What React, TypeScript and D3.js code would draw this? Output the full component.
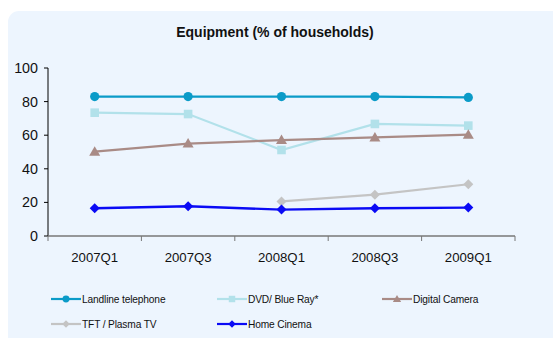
import React from "react";
import * as d3 from "d3";

const quarters = ["2007Q1", "2007Q3", "2008Q1", "2008Q3", "2009Q1"];
const yTicks = [0, 20, 40, 60, 80, 100];

const landline = [83, 83, 83, 83, 82.5];
const dvd = [73.4, 72.6, 51.2, 66.7, 65.7];
const camera = [50.2, 55, 57.1, 58.7, 60.3];
const tft: (number | null)[] = [null, null, 20.6, 24.6, 30.8];
const cinema = [16.5, 17.7, 15.7, 16.5, 16.9];

type Marker = "circle" | "square" | "triangle" | "diamond";
interface Series {
  name: string;
  values: (number | null)[];
  color: string;
  marker: Marker;
  width: number;
}

const series: Series[] = [
  { name: "Landline telephone", values: landline, color: "#0B9BC8", marker: "circle", width: 2.2 },
  { name: "DVD/ Blue Ray*", values: dvd, color: "#B2E1EA", marker: "square", width: 2.2 },
  { name: "Digital Camera", values: camera, color: "#A98B86", marker: "triangle", width: 2.2 },
  { name: "TFT / Plasma TV", values: tft, color: "#C4C4C4", marker: "diamond", width: 2.2 },
  { name: "Home Cinema", values: cinema, color: "#0A0AF5", marker: "diamond", width: 2.4 },
];

const font = "Liberation Sans, Arial, sans-serif";

function MarkerShape({
  type,
  x,
  y,
  color,
  k = 1,
}: {
  type: Marker;
  x: number;
  y: number;
  color: string;
  k?: number;
}) {
  switch (type) {
    case "circle":
      return <circle cx={x} cy={y} r={4.6 * k} fill={color} />;
    case "square":
      return <rect x={x - 4.3 * k} y={y - 4.3 * k} width={8.6 * k} height={8.6 * k} fill={color} />;
    case "triangle":
      return (
        <path
          d={`M${x},${y - 5.5 * k}L${x + 5.5 * k},${y + 4 * k}L${x - 5.5 * k},${y + 4 * k}Z`}
          fill={color}
        />
      );
    case "diamond":
      return (
        <path
          d={`M${x},${y - 5 * k}L${x + 5 * k},${y}L${x},${y + 5 * k}L${x - 5 * k},${y}Z`}
          fill={color}
        />
      );
  }
}

export default function App() {
  const W = 553;
  const H = 338;
  const x0 = 48;
  const x1 = 515;
  const yTop = 68;
  const yBot = 236;

  const xBand = d3.scaleBand<string>().domain(quarters).range([x0, x1]);
  const xc = (q: string) => (xBand(q) as number) + xBand.bandwidth() / 2;
  const y = d3.scaleLinear().domain([0, 100]).range([yBot, yTop]);

  const line = d3
    .line<{ q: string; v: number | null }>()
    .defined((d) => d.v !== null)
    .x((d) => xc(d.q))
    .y((d) => y(d.v as number));

  const boundaries = [...quarters.map((q) => xBand(q) as number), x1];

  const legendPos = [
    { lx: 51, ly: 299 },
    { lx: 217, ly: 299 },
    { lx: 382, ly: 299 },
    { lx: 51, ly: 324 },
    { lx: 217, ly: 324 },
  ];

  return (
    <svg
      width={W}
      height={H}
      style={{ position: "absolute", left: 0, top: 0, display: "block" }}
    >
      <rect x={0} y={0} width={W} height={H} fill="#ffffff" />
      <rect x={8} y={11} width={W + 20} height={H + 20} rx={11} fill="#EDF5FE" />

      <text
        x={275}
        y={37}
        textAnchor="middle"
        fontFamily={font}
        fontWeight="bold"
        fontSize={14}
        fill="#111"
      >
        Equipment (% of households)
      </text>

      {/* y axis */}
      <line x1={x0} x2={x0} y1={yTop} y2={yBot} stroke="#000" strokeWidth={1} />
      {yTicks.map((t) => (
        <g key={t}>
          <line x1={x0 - 4} x2={x0} y1={y(t)} y2={y(t)} stroke="#000" />
          <text
            x={38}
            y={y(t) + 5}
            textAnchor="end"
            fontFamily={font}
            fontSize={14.3}
            fill="#111"
          >
            {t}
          </text>
        </g>
      ))}

      {/* x axis */}
      <line x1={x0} x2={x1} y1={yBot} y2={yBot} stroke="#777" strokeWidth={1.5} />
      {boundaries.map((b, i) => (
        <line key={i} x1={b} x2={b} y1={yBot} y2={yBot + 5} stroke="#777" strokeWidth={1} />
      ))}
      {quarters.map((q) => (
        <text
          key={q}
          x={xc(q)}
          y={262}
          textAnchor="middle"
          fontFamily={font}
          fontSize={13.2}
          fill="#111"
        >
          {q}
        </text>
      ))}

      {/* series */}
      {series.map((s) => {
        const pts = quarters.map((q, i) => ({ q, v: s.values[i] }));
        return (
          <g key={s.name}>
            <path d={line(pts) ?? ""} fill="none" stroke={s.color} strokeWidth={s.width} />
            {pts
              .filter((p) => p.v !== null)
              .map((p) => (
                <MarkerShape key={p.q} type={s.marker} x={xc(p.q)} y={y(p.v as number)} color={s.color} />
              ))}
          </g>
        );
      })}

      {/* legend */}
      {series.map((s, i) => {
        const { lx, ly } = legendPos[i];
        return (
          <g key={s.name}>
            <line x1={lx} x2={lx + 30} y1={ly} y2={ly} stroke={s.color} strokeWidth={2.2} />
            <MarkerShape type={s.marker} x={lx + 15} y={ly} color={s.color} k={0.75} />
            <text
              x={lx + 31}
              y={ly + 3.5}
              fontFamily={font}
              fontSize={10.2}
              letterSpacing={-0.15}
              fill="#111"
            >
              {s.name}
            </text>
          </g>
        );
      })}
    </svg>
  );
}
